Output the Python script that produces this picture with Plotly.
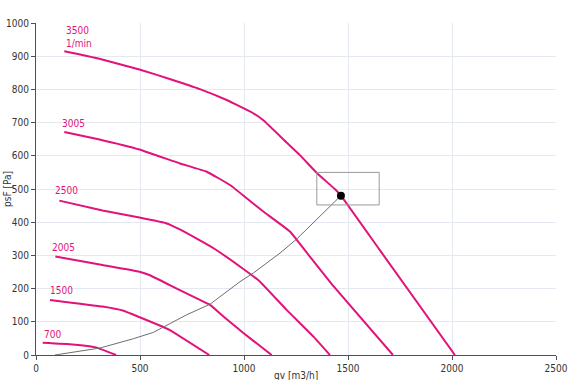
import plotly.graph_objects as go

# ---- data (qv [m3/h], psF [Pa]) ----
speeds = ["3500", "3005", "2500", "2005", "1500", "700"]

q_3500 = [136, 300, 497, 650, 788, 917, 1045, 1093, 1205, 1269, 1349, 1438, 1466, 1654, 2014]
p_3500 = [915, 893, 860, 830, 801, 768, 728, 707, 640, 602, 549, 499, 480, 315, 0]

q_3005 = [136, 300, 497, 692, 821, 933, 1013, 1093, 1221, 1317, 1429, 1716]
p_3005 = [672, 650, 619, 577, 552, 512, 472, 432, 372, 296, 208, 0]

q_2500 = [112, 320, 497, 625, 689, 788, 865, 997, 1077, 1205, 1333, 1413]
p_2500 = [465, 435, 414, 397, 379, 345, 317, 259, 221, 136, 56, 0]

q_2005 = [93, 320, 497, 545, 689, 788, 837, 901, 997, 1133]
p_2005 = [297, 271, 251, 241, 196, 166, 151, 116, 66, 0]

q_1500 = [67, 320, 417, 497, 641, 833]
p_1500 = [166, 146, 134, 114, 76, 0]

q_700 = [32, 176, 288, 385]
p_700 = [37, 32, 23, 0]

q_sys = [91, 308, 468, 564, 612, 724, 837, 981, 1045, 1173, 1253, 1349, 1466]
p_sys = [0, 21, 49, 68, 84, 121, 153, 221, 247, 307, 349, 407, 480]

op_q = [1466]
op_p = [480]

box_q = [1350, 1650]
box_p = [452, 550]

label_text = ["3500<br>1/min", "3005", "2500", "2005", "1500", "700"]
label_q = [133, 115, 83, 67, 56, 29]
label_p = [957, 698, 494, 324, 193, 62]

x_ticks = [0, 500, 1000, 1500, 2000, 2500]
y_ticks = [0, 100, 200, 300, 400, 500, 600, 700, 800, 900, 1000]

PINK = "#e2127a"
FONT = "Liberation Sans Narrow, DejaVu Sans Condensed, Arial Narrow, sans-serif"

fig = go.Figure()

curves = [(q_3500, p_3500), (q_3005, p_3005), (q_2500, p_2500),
          (q_2005, p_2005), (q_1500, p_1500), (q_700, p_700)]
for (q, p), name in zip(curves, speeds):
    fig.add_trace(go.Scatter(x=q, y=p, mode="lines", name=name,
                             line=dict(color=PINK, width=2, shape="spline", smoothing=0.3),
                             hoverinfo="skip"))

fig.add_trace(go.Scatter(x=q_sys, y=p_sys, mode="lines",
                         line=dict(color="#6e6e6e", width=1), hoverinfo="skip"))

fig.add_shape(type="rect", x0=box_q[0], x1=box_q[1], y0=box_p[0], y1=box_p[1],
              line=dict(color="#9a9a9a", width=1), fillcolor="rgba(0,0,0,0)")

fig.add_trace(go.Scatter(x=op_q, y=op_p, mode="markers",
                         marker=dict(color="black", size=8), hoverinfo="skip"))

for t, q, p in zip(label_text, label_q, label_p):
    fig.add_annotation(x=q, y=p, text=t, showarrow=False, xanchor="left",
                       yanchor="middle", align="left",
                       font=dict(family=FONT, size=10, color=PINK))

fig.add_annotation(xref="paper", yref="paper", x=0.5, y=0, yshift=-13,
                   text="qv [m3/h]", showarrow=False, yanchor="top",
                   font=dict(family=FONT, size=10, color="#333333"))
fig.add_annotation(xref="paper", yref="paper", x=0, xshift=-29, y=0.5,
                   text="psF [Pa]", showarrow=False, textangle=-90,
                   xanchor="center", yanchor="middle",
                   font=dict(family=FONT, size=10, color="#333333"))

axis_common = dict(showgrid=True, gridcolor="#e4e9f1", gridwidth=1,
                   showline=True, linecolor="#505050", linewidth=1,
                   ticks="outside", ticklen=4, tickcolor="#505050",
                   tickfont=dict(family=FONT, size=10, color="#333333"),
                   zeroline=False, mirror=False, automargin=False)

fig.update_xaxes(range=[0, 2500], tickvals=x_ticks, **axis_common)
fig.update_yaxes(range=[0, 1000], tickvals=y_ticks, **axis_common)

fig.update_layout(width=570, height=380, showlegend=False,
                  margin=dict(l=36, r=14, t=23, b=25),
                  plot_bgcolor="white", paper_bgcolor="white")

fig.write_html("out.html")
